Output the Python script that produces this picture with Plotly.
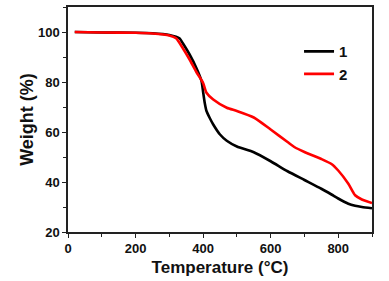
import plotly.graph_objects as go

temp1 = [20, 100, 200, 250, 300, 330, 340, 360, 380, 395, 400, 405, 410, 420, 430, 450, 470, 500, 550, 600, 650, 700, 750, 780, 800, 830, 850, 870, 900]
w1 = [100, 99.8, 99.7, 99.5, 98.8, 97.5, 95.5, 91, 85.6, 80.5, 76, 71.5, 68.4, 65.5, 63, 59, 56.5, 54.2, 51.9, 48.3, 44.3, 40.8, 37.3, 35, 33.4, 31.3, 30.5, 30, 29.5]

temp2 = [20, 100, 200, 250, 300, 320, 340, 360, 380, 400, 410, 430, 470, 500, 550, 600, 650, 670, 700, 750, 780, 800, 830, 850, 870, 900]
w2 = [100, 99.8, 99.7, 99.4, 98.6, 97.5, 93.5, 89, 84, 79.6, 75.7, 73, 69.7, 68.4, 65.8, 61, 56, 54, 52, 49.2, 47.2, 44.6, 39.3, 34.7, 33, 31.6]

xticks = [0, 200, 400, 600, 800]
yticks = [20, 40, 60, 80, 100]

fig = go.Figure()
fig.add_trace(go.Scatter(x=temp1, y=w1, mode="lines", name="1",
                         line=dict(color="black", width=2.6, shape="spline", smoothing=0.6)))
fig.add_trace(go.Scatter(x=temp2, y=w2, mode="lines", name="2",
                         line=dict(color="#ff0000", width=2.6, shape="spline", smoothing=0.6)))

axis_common = dict(
    showline=True, linecolor="#222", linewidth=1.5, mirror=True,
    showgrid=False, zeroline=False,
    ticks="outside", ticklen=4, tickwidth=1.2, tickcolor="#222",
    tickfont=dict(family="Liberation Sans", size=13, color="#111", weight="bold"),
)

fig.update_xaxes(range=[0, 900], tickvals=xticks,
                 minor=dict(ticks="outside", dtick=100, ticklen=3, tickcolor="#222"),
                 title=dict(text="Temperature (°C)", standoff=6,
                            font=dict(family="Liberation Sans", size=17, color="#111", weight="bold")),
                 **axis_common)
fig.update_yaxes(range=[20, 110], tickvals=yticks,
                 minor=dict(ticks="outside", dtick=10, ticklen=3, tickcolor="#222"),
                 title=dict(text="Weight (%)", standoff=0,
                            font=dict(family="Liberation Sans", size=18, color="#111", weight="bold")),
                 **axis_common)

fig.update_layout(
    width=389, height=281,
    margin=dict(l=68, r=17, t=5, b=49),
    plot_bgcolor="white", paper_bgcolor="white",
    legend=dict(x=0.76, y=0.875, xanchor="left", yanchor="top",
                bgcolor="rgba(0,0,0,0)", tracegroupgap=0,
                font=dict(family="Liberation Sans", size=15, color="#111", weight="bold"),
                itemwidth=30),
)

fig.write_html("out.html", config={"displayModeBar": False},
               post_script="document.body.style.margin='0';")
